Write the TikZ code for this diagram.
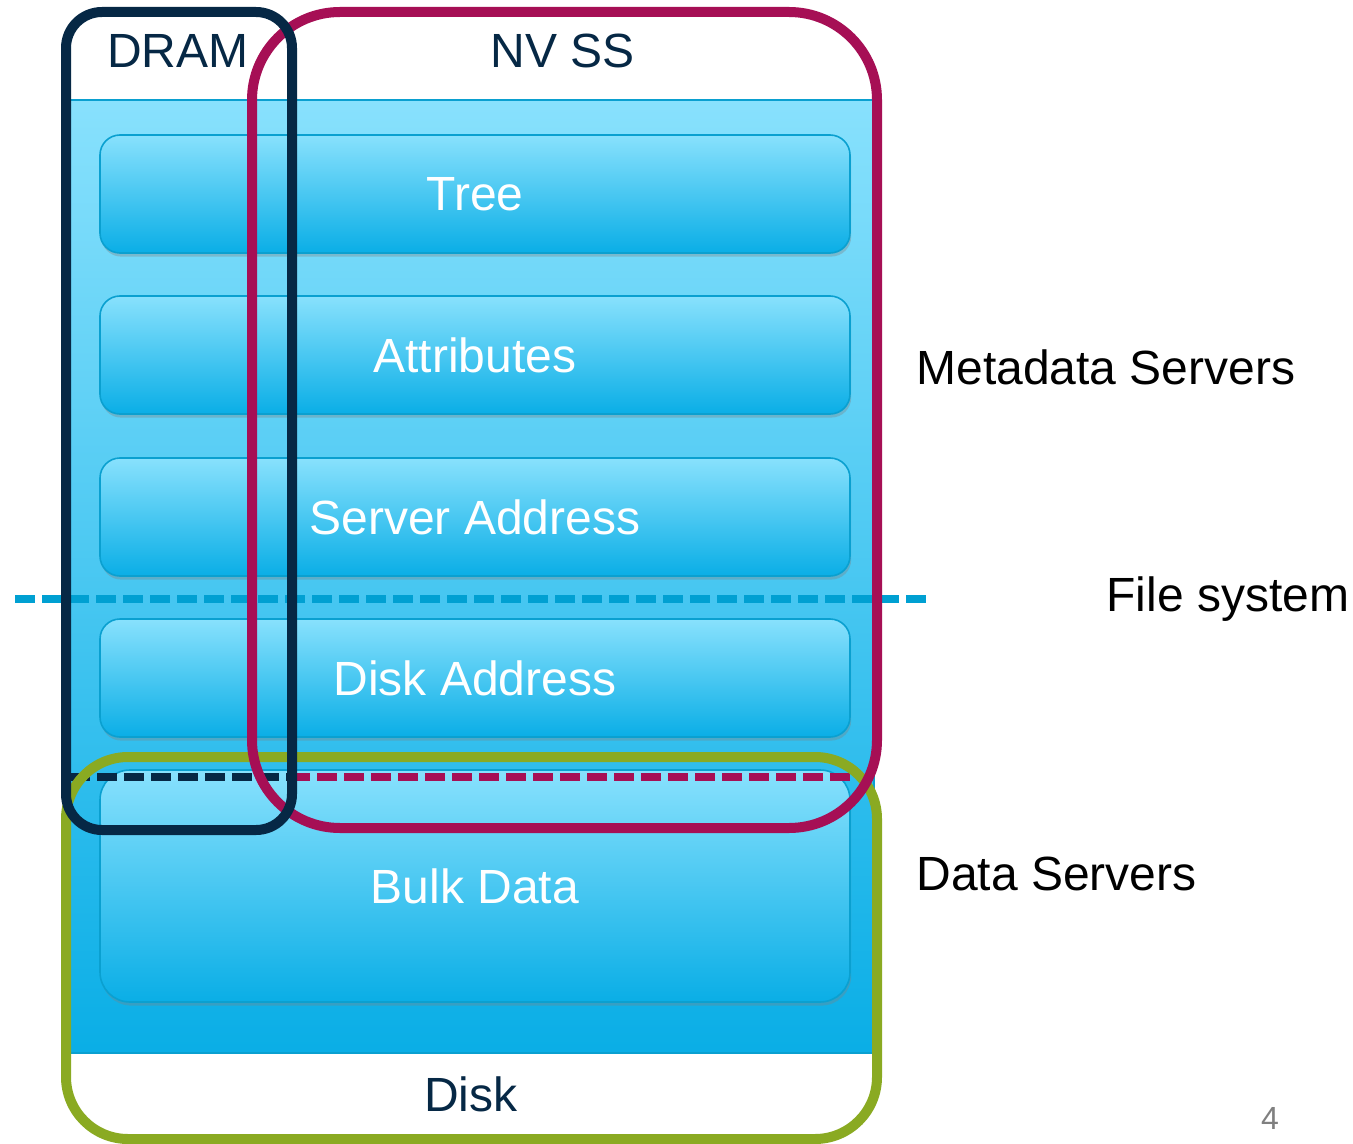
\documentclass[tikz,border=0pt]{standalone}
\usepackage{fontspec}
\setmainfont{Liberation Sans}
\usetikzlibrary{shadows}
\definecolor{navy}{HTML}{062845}
\definecolor{magent}{HTML}{A60F55}
\definecolor{grn}{HTML}{8AAA22}
\definecolor{lblue}{HTML}{88E1FD}
\definecolor{dblue}{HTML}{0AAEE6}
\definecolor{edgeblue}{HTML}{0AA0D0}
\definecolor{dashblue}{HTML}{00A0D2}
\definecolor{pgnum}{HTML}{808080}
\begin{document}
\begin{tikzpicture}[x=0.5pt,y=-0.5pt,
  layerbox/.style={draw=edgeblue, line width=0.8pt, rounded corners=10pt,
    top color=lblue, bottom color=dblue, minimum width=375pt,
    text=white, font=\fontsize{24}{28}\selectfont, inner sep=0pt,
    drop shadow={shadow xshift=0.6pt, shadow yshift=-1.8pt, opacity=0.35}},
  hdr/.style={font=\fontsize{24}{28}\selectfont, text=navy, inner sep=0pt, anchor=base},
  side/.style={font=\fontsize{24}{28}\selectfont, text=black, inner sep=0pt, anchor=base west},
  outline/.style={line width=5pt},
  dashline/.style={line width=3.8pt, dash pattern=on 10pt off 3.5pt}
]
\useasboundingbox (0,0) rectangle (1353,1144);
\fill[white] (0,0) rectangle (1353,1144);
% background stack
\path[top color=lblue, bottom color=dblue, draw=edgeblue, line width=0.8pt]
  (70,100) rectangle (874,1053);
% layer boxes
\node[layerbox, minimum height=59pt] (tree) at (475,194) {Tree};
\node[layerbox, minimum height=59pt] (attr) at (475,355) {Attributes};
\node[layerbox, minimum height=59pt] (saddr) at (475,517) {Server Address};
\node[layerbox, minimum height=59pt] (daddr) at (475,678) {Disk Address};
\node[layerbox, minimum height=116pt, rounded corners=15pt] (bulk) at (475,886) {Bulk Data};
% file system divider
\coordinate (fsl) at (15,599);
\coordinate (fsr) at (930,599);
\draw[dashline, dashblue] (fsl) -- (fsr);
% lower divider
\coordinate (dl) at (70,777);
\coordinate (dm) at (290,777);
\coordinate (dr) at (852,777);
\draw[dashline, navy] (dl) -- (dm);
\draw[dashline, magent] (dm) -- (dr);
% groups
\draw[outline, grn, rounded corners=31pt] (66,757) rectangle (877,1139);
\draw[outline, magent, rounded corners=44pt] (252,12) rectangle (877,828);
\draw[outline, navy, rounded corners=18pt] (66,12) rectangle (292,830);
% headers
\node[hdr] (dram) at (178,68) {DRAM};
\node[hdr] (nvss) at (563,68) {NV SS};
\node[hdr] (disk) at (471,1111) {Disk};
% side labels
\node[side] (meta) at (916,384) {Metadata Servers};
\node[side] (fs) at (1106,611) {File system};
\node[side] (ds) at (916,890) {Data Servers};
\node[font=\fontsize{16}{19}\selectfont, text=pgnum, inner sep=0pt, anchor=base] (pg) at (1270,1129) {4};
\end{tikzpicture}
\end{document}
